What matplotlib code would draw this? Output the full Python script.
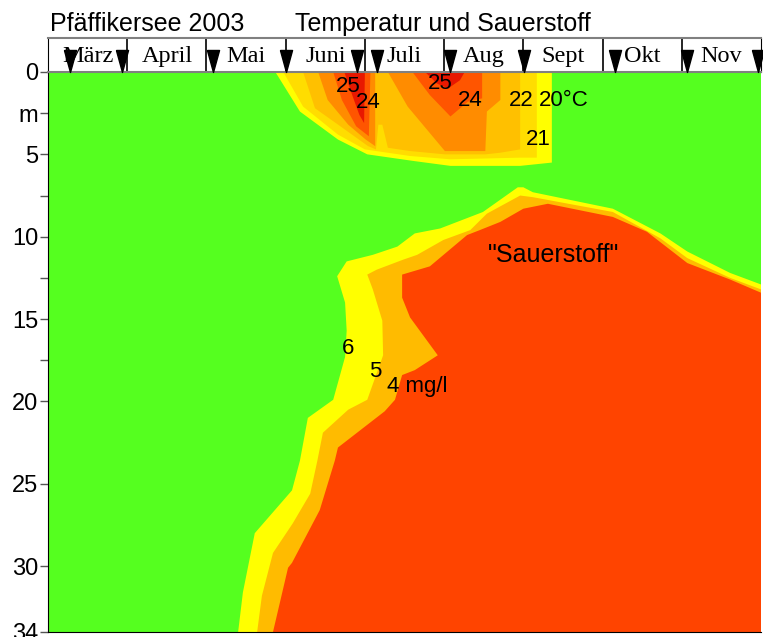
import matplotlib.pyplot as plt
import numpy as np

# Kopfzeile: Monate und Probenahmedaten (in Monaten ab 1. Maerz)
monate = ['März', 'April', 'Mai', 'Juni', 'Juli', 'Aug', 'Sept', 'Okt', 'Nov']
probenahmen = [0.28, 0.93, 2.08, 3.00, 3.90, 4.15, 5.08, 6.01, 7.16, 8.07, 8.96]

# Sauerstoff-Isolinien (Zeit in Monaten, Tiefe in m), Bereich darunter = weniger O2
o2_6_t = [2.40, 2.46, 2.61, 3.08, 3.18, 3.28, 3.60, 3.75, 3.77, 3.75, 3.65, 3.77, 4.10, 4.41,
          4.63, 4.95, 5.49, 5.93, 6.00, 6.12, 7.13, 7.73, 8.07, 8.61, 9.00]
o2_6_z = [34.0, 31.6, 28.0, 25.4, 23.6, 21.0, 19.9, 17.3, 15.7, 14.0, 12.4, 11.5, 11.1, 10.6,
          9.8, 9.5, 8.5, 7.0, 7.0, 7.3, 8.3, 9.8, 10.9, 12.2, 12.9]
o2_5_t = [2.64, 2.70, 2.84, 3.09, 3.31, 3.40, 3.47, 3.79, 4.03, 4.23, 4.22, 4.10, 4.03, 4.15,
          4.48, 4.66, 4.99, 5.33, 5.54, 5.96, 6.12, 7.13, 7.73, 8.07, 8.61, 9.00]
o2_5_z = [34.0, 31.8, 29.2, 27.4, 25.6, 23.6, 21.9, 20.5, 19.9, 17.2, 15.1, 13.2, 12.3, 12.0,
          11.4, 11.1, 10.2, 9.6, 8.6, 7.5, 7.6, 8.5, 10.1, 11.3, 12.5, 13.2]
o2_4_t = [2.84, 3.03, 3.08, 3.43, 3.62, 3.66, 4.25, 4.38, 4.47, 4.63, 4.92, 4.57, 4.47, 4.47,
          4.82, 5.29, 5.45, 5.71, 6.00, 6.31, 7.13, 7.56, 8.07, 8.61, 9.00]
o2_4_z = [34.0, 30.1, 29.8, 26.6, 23.6, 22.8, 20.6, 19.9, 18.4, 18.1, 17.2, 14.9, 13.7, 12.3,
          11.8, 9.9, 9.6, 9.1, 8.3, 8.0, 8.8, 9.7, 11.6, 12.6, 13.4]

# Temperatur-Isolinien (geschlossene Flaechen ab Oberflaeche)
t20_t = [2.87, 3.18, 3.66, 4.03, 4.61, 5.08, 5.96, 6.36, 6.36]
t20_z = [0.0, 2.4, 4.1, 5.0, 5.4, 5.7, 5.7, 5.5, 0.0]
t21_t = [2.97, 3.22, 3.66, 4.00, 4.57, 5.08, 5.96, 6.17, 6.17]
t21_z = [0.0, 2.1, 3.8, 4.7, 5.1, 5.3, 5.2, 5.2, 0.0]
t22_t = [3.22, 3.37, 3.75, 4.04, 4.14, 4.17, 4.22, 4.29, 4.57, 5.01, 5.52, 5.71, 5.96, 5.96]
t22_z = [0.0, 2.2, 3.5, 4.5, 4.7, 3.2, 3.2, 4.6, 4.8, 5.0, 5.0, 4.9, 4.7, 0.0]
t23a_t = [3.41, 3.53, 3.79, 4.01, 4.13, 4.13]
t23a_z = [0.0, 1.7, 3.2, 4.1, 4.5, 0.0]
t23b_t = [4.29, 4.54, 5.01, 5.52, 5.54, 5.71, 5.71]
t23b_z = [0.0, 2.1, 4.8, 4.8, 2.4, 1.7, 0.0]
t24a_t = [3.60, 3.71, 3.89, 4.05, 4.07]
t24a_z = [0.0, 1.7, 3.3, 3.9, 0.0]
t24b_t = [4.60, 4.82, 5.08, 5.30, 5.48, 5.48]
t24b_z = [0.0, 1.4, 2.7, 1.8, 1.6, 0.0]
t25a_t = [3.74, 3.84, 3.93, 3.99, 4.00]
t25a_z = [0.0, 1.4, 2.6, 3.1, 0.0]
t25b_t = [4.76, 4.91, 5.05, 5.20, 5.26]
t25b_z = [0.0, 0.7, 1.0, 0.5, 0.0]

gruen = '#55FF1F'
farben_o2 = ['#FFFF00', '#FFBB00', '#FF4400']
farben_t = ['#FFFF00', '#FFDD00', '#FFC000', '#FF8C00', '#FF5500', '#E81800']

W, H = 763, 637
fig = plt.figure(figsize=(W / 100, H / 100), dpi=100)
ax = fig.add_axes([48 / W, 5 / H, 713 / W, 560 / H])
hx = fig.add_axes([48 / W, 565 / H, 713 / W, 34 / H])
# Diagramm ueber der Kopfzeile, damit die Dreiecke sichtbar bleiben
ax.set_zorder(2)
hx.set_zorder(1)

ax.set_facecolor(gruen)
ax.set_xlim(0, 9)
ax.set_ylim(34, 0)

# Sauerstoff: Flaeche unter der Isolinie bis rechts unten schliessen
for t, z, c in zip([o2_6_t, o2_5_t, o2_4_t], [o2_6_z, o2_5_z, o2_4_z], farben_o2):
    ax.fill(t + [9.0], z + [34.0], color=c, lw=0)

# Temperatur
temp = [(t20_t, t20_z, 0), (t21_t, t21_z, 1), (t22_t, t22_z, 2),
        (t23a_t, t23a_z, 3), (t23b_t, t23b_z, 3), (t24a_t, t24a_z, 4),
        (t24b_t, t24b_z, 4), (t25a_t, t25a_z, 5), (t25b_t, t25b_z, 5)]
for t, z, i in temp:
    ax.fill(t, z, color=farben_t[i], lw=0)

sans = 'Liberation Sans'
fs = 16
ax.text(3.79, 0.85, '25', fontsize=fs, family=sans, ha='center', va='center')
ax.text(4.04, 1.88, '24', fontsize=fs, family=sans, ha='center', va='center')
ax.text(4.95, 0.67, '25', fontsize=fs, family=sans, ha='center', va='center')
ax.text(5.33, 1.70, '24', fontsize=fs, family=sans, ha='center', va='center')
ax.text(5.97, 1.76, '22', fontsize=fs, family=sans, ha='center', va='center')
ax.text(6.20, 1.76, '20°C', fontsize=fs, family=sans, ha='left', va='center')
ax.text(6.19, 4.07, '21', fontsize=fs, family=sans, ha='center', va='center')
ax.text(6.38, 11.1, '"Sauerstoff"', fontsize=18, family=sans, ha='center', va='center')
ax.text(3.79, 16.8, '6', fontsize=fs, family=sans, ha='center', va='center')
ax.text(4.13, 18.2, '5', fontsize=fs, family=sans, ha='center', va='center')
ax.text(4.28, 19.1, '4 mg/l', fontsize=fs, family=sans, ha='left', va='center')

# Achse links
ax.set_xticks([])
ax.set_yticks([0, 2.5, 5, 10, 15, 20, 25, 30, 34])
ax.set_yticklabels(['0', 'm', '5', '10', '15', '20', '25', '30', '34'], family=sans, fontsize=17)
ax.set_yticks([7.5, 12.5, 17.5], minor=True)
ax.tick_params(axis='y', which='both', length=6, width=1, color='#555555', pad=1)
ax.spines['right'].set_visible(False)
ax.spines['top'].set_color('#808080')
ax.spines['top'].set_linewidth(1.5)
ax.spines['left'].set_color('black')
ax.spines['bottom'].set_color('black')

# Probenahme-Dreiecke an der Oberflaeche
dreieck = [(-0.55, 2), (0.55, 2), (0, 0), (-0.55, 2)]
ax.plot(probenahmen, [0] * len(probenahmen), ls='none', marker=dreieck, ms=31.7,
        color='black', clip_on=False, zorder=5)

# Kopfzeile mit Monaten
hx.set_xlim(0, 9)
hx.set_ylim(0, 1)
hx.set_xticks([])
hx.set_yticks([])
hx.set_facecolor('white')
for i in range(1, 9):
    hx.axvline(i, color='black', lw=1.2)
for i, m in enumerate(monate):
    hx.text(i + 0.5, 0.45, m, fontsize=17.5, family='Liberation Serif', ha='center', va='center')
hx.spines['bottom'].set_visible(False)
hx.spines['top'].set_color('#808080')
hx.spines['top'].set_linewidth(1.5)

fig.text(50 / W, 1 - 31 / H, 'Pfäffikersee 2003', fontsize=18, family=sans, va='baseline')
fig.text(295 / W, 1 - 31 / H, 'Temperatur und Sauerstoff', fontsize=18, family=sans, va='baseline')

fig.savefig('out.png', dpi=100)
